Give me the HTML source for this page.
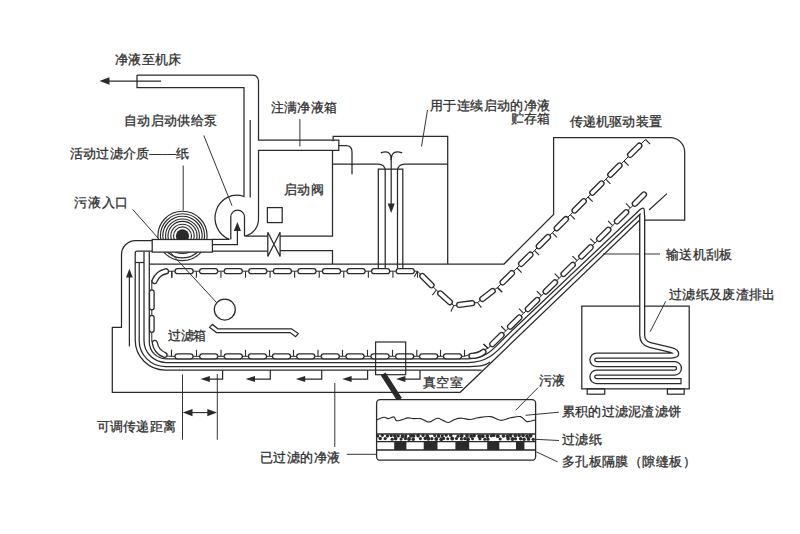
<!DOCTYPE html>
<html><head><meta charset="utf-8"><style>
html,body{margin:0;padding:0;background:#fff;width:800px;height:534px;overflow:hidden}
svg{display:block}
text{font-family:"Liberation Sans",sans-serif;font-size:13.2px;fill:#303030;stroke:#303030;stroke-width:0.3px}
</style></head><body>
<svg width="800" height="534" viewBox="0 0 800 534">
<rect width="800" height="534" fill="#fff"/>
<clipPath id="rtop"><rect x="0" y="0" width="800" height="246"/></clipPath>
<circle cx="182.5" cy="235.9" r="24.6" fill="none" stroke="#2a2a2a" stroke-width="1.15" clip-path="url(#rtop)"/>
<circle cx="182.5" cy="235.9" r="22.1" fill="none" stroke="#2a2a2a" stroke-width="1.15" clip-path="url(#rtop)"/>
<circle cx="182.5" cy="235.9" r="19.7" fill="none" stroke="#2a2a2a" stroke-width="1.15" clip-path="url(#rtop)"/>
<circle cx="182.5" cy="235.9" r="16.9" fill="none" stroke="#2a2a2a" stroke-width="1.15" clip-path="url(#rtop)"/>
<circle cx="182.5" cy="235.9" r="14.5" fill="none" stroke="#2a2a2a" stroke-width="1.15" clip-path="url(#rtop)"/>
<circle cx="182.5" cy="235.9" r="11.7" fill="none" stroke="#2a2a2a" stroke-width="1.15" clip-path="url(#rtop)"/>
<circle cx="182.5" cy="235.9" r="9.0" fill="none" stroke="#2a2a2a" stroke-width="1.15" clip-path="url(#rtop)"/>
<clipPath id="rbot"><rect x="0" y="246" width="800" height="100"/></clipPath>
<circle cx="182.5" cy="235.9" r="24.7" fill="none" stroke="#2a2a2a" stroke-width="1.2" clip-path="url(#rbot)"/>
<circle cx="182.5" cy="235.9" r="22.0" fill="none" stroke="#2a2a2a" stroke-width="1.2" clip-path="url(#rbot)"/>
<circle cx="182.5" cy="235.9" r="17.6" fill="none" stroke="#2a2a2a" stroke-width="1.2" clip-path="url(#rbot)"/>
<circle cx="182.5" cy="235.9" r="6.6" fill="#2a2a2a"/>
<path d="M137,75 H252.5 A6,6 0 0 1 258.5,81 V140 H338.8 V150.3 H258.5 V219 A17,17 0 0 1 244.5,236 H267.8" stroke="#2a2a2a" stroke-width="1.25" fill="none" />
<path d="M137,75 V87.5 H244 V196.5 A21,22 0 0 0 229.5,239.4 H212.4" stroke="#2a2a2a" stroke-width="1.25" fill="none" />
<path d="M230.8,239.4 V217 A6.85,6.85 0 0 1 244.5,217 V236" stroke="#2a2a2a" stroke-width="1.25" fill="none" />
<path d="M250.2,120 V197.6" stroke="#2a2a2a" stroke-width="1.25" fill="none" />
<path d="M161,81 H108" stroke="#2a2a2a" stroke-width="1.25" fill="none" />
<polygon points="99.5,81 109.5,77.2 109.5,84.8" fill="#2a2a2a"/>
<path d="M212.4,244.5 H237.4 V230" stroke="#2a2a2a" stroke-width="1.25" fill="none" />
<polygon points="233.8,231 241,231 237.4,222" fill="#2a2a2a"/>
<path d="M267.8,232.3 V256.4 L280.1,232.3 V256.4 Z" stroke="#2a2a2a" stroke-width="1.25" fill="none" />
<path d="M280.1,236 H332.5 V150.3" stroke="#2a2a2a" stroke-width="1.25" fill="none" />
<path d="M280.1,250.7 H332.5 V264" stroke="#2a2a2a" stroke-width="1.25" fill="none" />
<path d="M212.4,251 H267.8" stroke="#2a2a2a" stroke-width="1.25" fill="none" />
<rect x="267.4" y="207.6" width="14.8" height="15" fill="none" stroke="#2a2a2a" stroke-width="1.25"/>
<path d="M333.2,141.3 V136.3 H447.7 V264" stroke="#2a2a2a" stroke-width="1.25" fill="none" />
<path d="M332.5,164 H378 Q385.2,164 385.2,171 V268" stroke="#2a2a2a" stroke-width="1.25" fill="none" />
<path d="M447.7,164 H405 Q397.5,164 397.5,171 V268" stroke="#2a2a2a" stroke-width="1.25" fill="none" />
<path d="M378.3,268 V169.1 H402.8 V268" stroke="#2a2a2a" stroke-width="1.25" fill="none" />
<path d="M338.8,145.6 H346 Q352,145.6 352,152 V174.2" stroke="#2a2a2a" stroke-width="1.25" fill="none" />
<path d="M391.2,157 V205" stroke="#2a2a2a" stroke-width="1.25" fill="none" />
<polygon points="387.7,203.5 394.7,203.5 391.2,213" fill="#2a2a2a"/>
<path d="M380.8,152.8 Q391.2,149 391.2,160 M402.2,152.8 Q391.2,149 391.2,160" stroke="#2a2a2a" stroke-width="1.25" fill="none" />
<path d="M427.5,110 L421.5,146.5" stroke="#2a2a2a" stroke-width="0.95" fill="none" />
<path d="M149.3,264 H504 L553.6,214.4 V137.6 H670.3 A14.5,14.5 0 0 1 684.7,152 V220.2 H644.4" stroke="#2a2a2a" stroke-width="1.25" fill="none" />
<path d="M649,210 L667,193.6" stroke="#2a2a2a" stroke-width="1.25" fill="none" />
<rect x="152.2" y="239.5" width="60.2" height="12.6" fill="#fff" stroke="#2a2a2a" stroke-width="1.25"/>
<path d="M152.2,240.6 H135.5 A14,14 0 0 0 121.5,254.6 V327.4 H112.3 V392.3 H460.2 L640,219.8" stroke="#2a2a2a" stroke-width="1.25" fill="none" />
<path d="M152.2,251.2 H137.2 A2,2 0 0 0 135.2,253.2 V340 A30,30 0 0 0 165.2,370 H481.6" stroke="#2a2a2a" stroke-width="1.25" fill="none" />
<path d="M135.2,262.5 H144" stroke="#2a2a2a" stroke-width="1.25" fill="none" />
<path d="M139.2,262.5 V340.5 A26,26 0 0 0 165.2,366.5 H470 C482,366.5 486,365 490,362" stroke="#2a2a2a" stroke-width="1.25" fill="none" />
<path d="M144,251.8 V340.5 A22,22 0 0 0 166,362.5 H468 C490,362.5 498,350 513,335 L640,214.2 V300" stroke="#2a2a2a" stroke-width="1.25" fill="none" />
<path d="M149.3,251.8 V342 A16.8,16.8 0 0 0 166.1,358.8 H468 C488,358.8 495,346.5 507.4,335 L639.8,209.8 Q644.4,205.6 644.4,211.5 V300" stroke="#2a2a2a" stroke-width="1.25" fill="none" />
<polyline points="171.80,271.20 196.37,271.20 220.94,271.20 245.51,271.20 270.08,271.20 294.65,271.20 319.22,271.20 343.79,271.20 368.36,271.20 392.93,271.20 417.50,271.20" stroke="#2a2a2a" stroke-width="1.0" fill="none"/>
<path d="M177.59,271.20 L190.59,271.20" stroke="#2a2a2a" stroke-width="6.3" stroke-linecap="round" fill="none"/>
<path d="M177.59,271.20 L190.59,271.20" stroke="#fff" stroke-width="3.7" stroke-linecap="round" fill="none"/>
<path d="M202.16,271.20 L215.16,271.20" stroke="#2a2a2a" stroke-width="6.3" stroke-linecap="round" fill="none"/>
<path d="M202.16,271.20 L215.16,271.20" stroke="#fff" stroke-width="3.7" stroke-linecap="round" fill="none"/>
<path d="M226.73,271.20 L239.73,271.20" stroke="#2a2a2a" stroke-width="6.3" stroke-linecap="round" fill="none"/>
<path d="M226.73,271.20 L239.73,271.20" stroke="#fff" stroke-width="3.7" stroke-linecap="round" fill="none"/>
<path d="M251.30,271.20 L264.30,271.20" stroke="#2a2a2a" stroke-width="6.3" stroke-linecap="round" fill="none"/>
<path d="M251.30,271.20 L264.30,271.20" stroke="#fff" stroke-width="3.7" stroke-linecap="round" fill="none"/>
<path d="M275.87,271.20 L288.87,271.20" stroke="#2a2a2a" stroke-width="6.3" stroke-linecap="round" fill="none"/>
<path d="M275.87,271.20 L288.87,271.20" stroke="#fff" stroke-width="3.7" stroke-linecap="round" fill="none"/>
<path d="M300.44,271.20 L313.44,271.20" stroke="#2a2a2a" stroke-width="6.3" stroke-linecap="round" fill="none"/>
<path d="M300.44,271.20 L313.44,271.20" stroke="#fff" stroke-width="3.7" stroke-linecap="round" fill="none"/>
<path d="M325.00,271.20 L338.00,271.20" stroke="#2a2a2a" stroke-width="6.3" stroke-linecap="round" fill="none"/>
<path d="M325.00,271.20 L338.00,271.20" stroke="#fff" stroke-width="3.7" stroke-linecap="round" fill="none"/>
<path d="M349.58,271.20 L362.58,271.20" stroke="#2a2a2a" stroke-width="6.3" stroke-linecap="round" fill="none"/>
<path d="M349.58,271.20 L362.58,271.20" stroke="#fff" stroke-width="3.7" stroke-linecap="round" fill="none"/>
<path d="M374.14,271.20 L387.14,271.20" stroke="#2a2a2a" stroke-width="6.3" stroke-linecap="round" fill="none"/>
<path d="M374.14,271.20 L387.14,271.20" stroke="#fff" stroke-width="3.7" stroke-linecap="round" fill="none"/>
<path d="M398.72,271.20 L411.72,271.20" stroke="#2a2a2a" stroke-width="6.3" stroke-linecap="round" fill="none"/>
<path d="M398.72,271.20 L411.72,271.20" stroke="#fff" stroke-width="3.7" stroke-linecap="round" fill="none"/>
<line x1="171.80" y1="271.20" x2="171.80" y2="277.70" stroke="#2a2a2a" stroke-width="1.1"/>
<line x1="196.37" y1="271.20" x2="196.37" y2="277.70" stroke="#2a2a2a" stroke-width="1.1"/>
<line x1="220.94" y1="271.20" x2="220.94" y2="277.70" stroke="#2a2a2a" stroke-width="1.1"/>
<line x1="245.51" y1="271.20" x2="245.51" y2="277.70" stroke="#2a2a2a" stroke-width="1.1"/>
<line x1="270.08" y1="271.20" x2="270.08" y2="277.70" stroke="#2a2a2a" stroke-width="1.1"/>
<line x1="294.65" y1="271.20" x2="294.65" y2="277.70" stroke="#2a2a2a" stroke-width="1.1"/>
<line x1="319.22" y1="271.20" x2="319.22" y2="277.70" stroke="#2a2a2a" stroke-width="1.1"/>
<line x1="343.79" y1="271.20" x2="343.79" y2="277.70" stroke="#2a2a2a" stroke-width="1.1"/>
<line x1="368.36" y1="271.20" x2="368.36" y2="277.70" stroke="#2a2a2a" stroke-width="1.1"/>
<line x1="392.93" y1="271.20" x2="392.93" y2="277.70" stroke="#2a2a2a" stroke-width="1.1"/>
<line x1="417.50" y1="271.20" x2="417.50" y2="277.70" stroke="#2a2a2a" stroke-width="1.1"/>
<polyline points="417.50,271.20 436.30,290.00 453.80,305.60 477.50,302.50 497.50,287.50" stroke="#2a2a2a" stroke-width="1.0" fill="none"/>
<path d="M422.30,276.00 L431.50,285.20" stroke="#2a2a2a" stroke-width="6.3" stroke-linecap="round" fill="none"/>
<path d="M422.30,276.00 L431.50,285.20" stroke="#fff" stroke-width="3.7" stroke-linecap="round" fill="none"/>
<path d="M440.20,293.47 L449.90,302.13" stroke="#2a2a2a" stroke-width="6.3" stroke-linecap="round" fill="none"/>
<path d="M440.20,293.47 L449.90,302.13" stroke="#fff" stroke-width="3.7" stroke-linecap="round" fill="none"/>
<path d="M459.20,304.89 L472.10,303.21" stroke="#2a2a2a" stroke-width="6.3" stroke-linecap="round" fill="none"/>
<path d="M459.20,304.89 L472.10,303.21" stroke="#fff" stroke-width="3.7" stroke-linecap="round" fill="none"/>
<path d="M482.30,298.90 L492.70,291.10" stroke="#2a2a2a" stroke-width="6.3" stroke-linecap="round" fill="none"/>
<path d="M482.30,298.90 L492.70,291.10" stroke="#fff" stroke-width="3.7" stroke-linecap="round" fill="none"/>
<line x1="417.50" y1="271.20" x2="414.25" y2="276.85" stroke="#2a2a2a" stroke-width="1.1"/>
<line x1="436.30" y1="290.00" x2="432.40" y2="295.20" stroke="#2a2a2a" stroke-width="1.1"/>
<line x1="453.80" y1="305.60" x2="450.88" y2="311.45" stroke="#2a2a2a" stroke-width="1.1"/>
<line x1="477.50" y1="302.50" x2="481.40" y2="307.70" stroke="#2a2a2a" stroke-width="1.1"/>
<line x1="497.50" y1="287.50" x2="502.10" y2="292.10" stroke="#2a2a2a" stroke-width="1.1"/>
<polyline points="497.50,287.50 517.00,268.00 534.50,250.50 552.30,232.70 570.30,214.70 588.00,197.00 605.80,179.20 624.00,161.00 645.50,139.50" stroke="#2a2a2a" stroke-width="1.0" fill="none"/>
<path d="M502.65,282.35 L511.85,273.15" stroke="#2a2a2a" stroke-width="6.3" stroke-linecap="round" fill="none"/>
<path d="M502.65,282.35 L511.85,273.15" stroke="#fff" stroke-width="3.7" stroke-linecap="round" fill="none"/>
<path d="M521.15,263.85 L530.35,254.65" stroke="#2a2a2a" stroke-width="6.3" stroke-linecap="round" fill="none"/>
<path d="M521.15,263.85 L530.35,254.65" stroke="#fff" stroke-width="3.7" stroke-linecap="round" fill="none"/>
<path d="M538.80,246.20 L548.00,237.00" stroke="#2a2a2a" stroke-width="6.3" stroke-linecap="round" fill="none"/>
<path d="M538.80,246.20 L548.00,237.00" stroke="#fff" stroke-width="3.7" stroke-linecap="round" fill="none"/>
<path d="M556.70,228.30 L565.90,219.10" stroke="#2a2a2a" stroke-width="6.3" stroke-linecap="round" fill="none"/>
<path d="M556.70,228.30 L565.90,219.10" stroke="#fff" stroke-width="3.7" stroke-linecap="round" fill="none"/>
<path d="M574.55,210.45 L583.75,201.25" stroke="#2a2a2a" stroke-width="6.3" stroke-linecap="round" fill="none"/>
<path d="M574.55,210.45 L583.75,201.25" stroke="#fff" stroke-width="3.7" stroke-linecap="round" fill="none"/>
<path d="M592.30,192.70 L601.50,183.50" stroke="#2a2a2a" stroke-width="6.3" stroke-linecap="round" fill="none"/>
<path d="M592.30,192.70 L601.50,183.50" stroke="#fff" stroke-width="3.7" stroke-linecap="round" fill="none"/>
<path d="M610.30,174.70 L619.50,165.50" stroke="#2a2a2a" stroke-width="6.3" stroke-linecap="round" fill="none"/>
<path d="M610.30,174.70 L619.50,165.50" stroke="#fff" stroke-width="3.7" stroke-linecap="round" fill="none"/>
<path d="M630.15,154.85 L639.35,145.65" stroke="#2a2a2a" stroke-width="6.3" stroke-linecap="round" fill="none"/>
<path d="M630.15,154.85 L639.35,145.65" stroke="#fff" stroke-width="3.7" stroke-linecap="round" fill="none"/>
<line x1="497.50" y1="287.50" x2="502.10" y2="292.10" stroke="#2a2a2a" stroke-width="1.1"/>
<line x1="517.00" y1="268.00" x2="521.60" y2="272.60" stroke="#2a2a2a" stroke-width="1.1"/>
<line x1="534.50" y1="250.50" x2="539.10" y2="255.10" stroke="#2a2a2a" stroke-width="1.1"/>
<line x1="552.30" y1="232.70" x2="556.90" y2="237.30" stroke="#2a2a2a" stroke-width="1.1"/>
<line x1="570.30" y1="214.70" x2="574.90" y2="219.30" stroke="#2a2a2a" stroke-width="1.1"/>
<line x1="588.00" y1="197.00" x2="592.60" y2="201.60" stroke="#2a2a2a" stroke-width="1.1"/>
<line x1="605.80" y1="179.20" x2="610.40" y2="183.80" stroke="#2a2a2a" stroke-width="1.1"/>
<line x1="624.00" y1="161.00" x2="628.60" y2="165.60" stroke="#2a2a2a" stroke-width="1.1"/>
<line x1="645.50" y1="139.50" x2="650.10" y2="144.10" stroke="#2a2a2a" stroke-width="1.1"/>
<polyline points="171.50,356.30 196.50,356.30 221.00,356.30 245.50,356.30 269.50,356.30 293.50,356.30 318.00,356.30 342.50,356.30 367.50,356.30 392.50,356.30 416.80,356.30 440.50,356.30 464.50,356.30" stroke="#2a2a2a" stroke-width="1.0" fill="none"/>
<path d="M177.50,356.30 L190.50,356.30" stroke="#2a2a2a" stroke-width="6.3" stroke-linecap="round" fill="none"/>
<path d="M177.50,356.30 L190.50,356.30" stroke="#fff" stroke-width="3.7" stroke-linecap="round" fill="none"/>
<path d="M202.25,356.30 L215.25,356.30" stroke="#2a2a2a" stroke-width="6.3" stroke-linecap="round" fill="none"/>
<path d="M202.25,356.30 L215.25,356.30" stroke="#fff" stroke-width="3.7" stroke-linecap="round" fill="none"/>
<path d="M226.75,356.30 L239.75,356.30" stroke="#2a2a2a" stroke-width="6.3" stroke-linecap="round" fill="none"/>
<path d="M226.75,356.30 L239.75,356.30" stroke="#fff" stroke-width="3.7" stroke-linecap="round" fill="none"/>
<path d="M251.00,356.30 L264.00,356.30" stroke="#2a2a2a" stroke-width="6.3" stroke-linecap="round" fill="none"/>
<path d="M251.00,356.30 L264.00,356.30" stroke="#fff" stroke-width="3.7" stroke-linecap="round" fill="none"/>
<path d="M275.00,356.30 L288.00,356.30" stroke="#2a2a2a" stroke-width="6.3" stroke-linecap="round" fill="none"/>
<path d="M275.00,356.30 L288.00,356.30" stroke="#fff" stroke-width="3.7" stroke-linecap="round" fill="none"/>
<path d="M299.25,356.30 L312.25,356.30" stroke="#2a2a2a" stroke-width="6.3" stroke-linecap="round" fill="none"/>
<path d="M299.25,356.30 L312.25,356.30" stroke="#fff" stroke-width="3.7" stroke-linecap="round" fill="none"/>
<path d="M323.75,356.30 L336.75,356.30" stroke="#2a2a2a" stroke-width="6.3" stroke-linecap="round" fill="none"/>
<path d="M323.75,356.30 L336.75,356.30" stroke="#fff" stroke-width="3.7" stroke-linecap="round" fill="none"/>
<path d="M348.50,356.30 L361.50,356.30" stroke="#2a2a2a" stroke-width="6.3" stroke-linecap="round" fill="none"/>
<path d="M348.50,356.30 L361.50,356.30" stroke="#fff" stroke-width="3.7" stroke-linecap="round" fill="none"/>
<path d="M373.50,356.30 L386.50,356.30" stroke="#2a2a2a" stroke-width="6.3" stroke-linecap="round" fill="none"/>
<path d="M373.50,356.30 L386.50,356.30" stroke="#fff" stroke-width="3.7" stroke-linecap="round" fill="none"/>
<path d="M398.15,356.30 L411.15,356.30" stroke="#2a2a2a" stroke-width="6.3" stroke-linecap="round" fill="none"/>
<path d="M398.15,356.30 L411.15,356.30" stroke="#fff" stroke-width="3.7" stroke-linecap="round" fill="none"/>
<path d="M422.15,356.30 L435.15,356.30" stroke="#2a2a2a" stroke-width="6.3" stroke-linecap="round" fill="none"/>
<path d="M422.15,356.30 L435.15,356.30" stroke="#fff" stroke-width="3.7" stroke-linecap="round" fill="none"/>
<path d="M446.00,356.30 L459.00,356.30" stroke="#2a2a2a" stroke-width="6.3" stroke-linecap="round" fill="none"/>
<path d="M446.00,356.30 L459.00,356.30" stroke="#fff" stroke-width="3.7" stroke-linecap="round" fill="none"/>
<line x1="171.50" y1="356.30" x2="171.50" y2="349.80" stroke="#2a2a2a" stroke-width="1.1"/>
<line x1="196.50" y1="356.30" x2="196.50" y2="349.80" stroke="#2a2a2a" stroke-width="1.1"/>
<line x1="221.00" y1="356.30" x2="221.00" y2="349.80" stroke="#2a2a2a" stroke-width="1.1"/>
<line x1="245.50" y1="356.30" x2="245.50" y2="349.80" stroke="#2a2a2a" stroke-width="1.1"/>
<line x1="269.50" y1="356.30" x2="269.50" y2="349.80" stroke="#2a2a2a" stroke-width="1.1"/>
<line x1="293.50" y1="356.30" x2="293.50" y2="349.80" stroke="#2a2a2a" stroke-width="1.1"/>
<line x1="318.00" y1="356.30" x2="318.00" y2="349.80" stroke="#2a2a2a" stroke-width="1.1"/>
<line x1="342.50" y1="356.30" x2="342.50" y2="349.80" stroke="#2a2a2a" stroke-width="1.1"/>
<line x1="367.50" y1="356.30" x2="367.50" y2="349.80" stroke="#2a2a2a" stroke-width="1.1"/>
<line x1="392.50" y1="356.30" x2="392.50" y2="349.80" stroke="#2a2a2a" stroke-width="1.1"/>
<line x1="416.80" y1="356.30" x2="416.80" y2="349.80" stroke="#2a2a2a" stroke-width="1.1"/>
<line x1="440.50" y1="356.30" x2="440.50" y2="349.80" stroke="#2a2a2a" stroke-width="1.1"/>
<line x1="464.50" y1="356.30" x2="464.50" y2="349.80" stroke="#2a2a2a" stroke-width="1.1"/>
<polyline points="488.00,348.40 505.81,330.85 523.62,313.30 541.43,295.76 559.24,278.21 577.05,260.66 594.86,243.12 612.67,225.57 630.48,208.02" stroke="#2a2a2a" stroke-width="1.0" fill="none"/>
<path d="M492.27,344.19 L501.54,335.06" stroke="#2a2a2a" stroke-width="6.3" stroke-linecap="round" fill="none"/>
<path d="M492.27,344.19 L501.54,335.06" stroke="#fff" stroke-width="3.7" stroke-linecap="round" fill="none"/>
<path d="M510.08,326.64 L519.35,317.52" stroke="#2a2a2a" stroke-width="6.3" stroke-linecap="round" fill="none"/>
<path d="M510.08,326.64 L519.35,317.52" stroke="#fff" stroke-width="3.7" stroke-linecap="round" fill="none"/>
<path d="M527.89,309.09 L537.16,299.97" stroke="#2a2a2a" stroke-width="6.3" stroke-linecap="round" fill="none"/>
<path d="M527.89,309.09 L537.16,299.97" stroke="#fff" stroke-width="3.7" stroke-linecap="round" fill="none"/>
<path d="M545.70,291.55 L554.97,282.42" stroke="#2a2a2a" stroke-width="6.3" stroke-linecap="round" fill="none"/>
<path d="M545.70,291.55 L554.97,282.42" stroke="#fff" stroke-width="3.7" stroke-linecap="round" fill="none"/>
<path d="M563.51,274.00 L572.78,264.87" stroke="#2a2a2a" stroke-width="6.3" stroke-linecap="round" fill="none"/>
<path d="M563.51,274.00 L572.78,264.87" stroke="#fff" stroke-width="3.7" stroke-linecap="round" fill="none"/>
<path d="M581.32,256.45 L590.59,247.33" stroke="#2a2a2a" stroke-width="6.3" stroke-linecap="round" fill="none"/>
<path d="M581.32,256.45 L590.59,247.33" stroke="#fff" stroke-width="3.7" stroke-linecap="round" fill="none"/>
<path d="M599.13,238.90 L608.40,229.78" stroke="#2a2a2a" stroke-width="6.3" stroke-linecap="round" fill="none"/>
<path d="M599.13,238.90 L608.40,229.78" stroke="#fff" stroke-width="3.7" stroke-linecap="round" fill="none"/>
<path d="M616.94,221.36 L626.21,212.23" stroke="#2a2a2a" stroke-width="6.3" stroke-linecap="round" fill="none"/>
<path d="M616.94,221.36 L626.21,212.23" stroke="#fff" stroke-width="3.7" stroke-linecap="round" fill="none"/>
<line x1="488.00" y1="348.40" x2="483.40" y2="343.80" stroke="#2a2a2a" stroke-width="1.1"/>
<line x1="505.81" y1="330.85" x2="501.21" y2="326.26" stroke="#2a2a2a" stroke-width="1.1"/>
<line x1="523.62" y1="313.30" x2="519.02" y2="308.71" stroke="#2a2a2a" stroke-width="1.1"/>
<line x1="541.43" y1="295.76" x2="536.83" y2="291.16" stroke="#2a2a2a" stroke-width="1.1"/>
<line x1="559.24" y1="278.21" x2="554.64" y2="273.61" stroke="#2a2a2a" stroke-width="1.1"/>
<line x1="577.05" y1="260.66" x2="572.45" y2="256.07" stroke="#2a2a2a" stroke-width="1.1"/>
<line x1="594.86" y1="243.12" x2="590.26" y2="238.52" stroke="#2a2a2a" stroke-width="1.1"/>
<line x1="612.67" y1="225.57" x2="608.07" y2="220.97" stroke="#2a2a2a" stroke-width="1.1"/>
<line x1="630.48" y1="208.02" x2="625.88" y2="203.42" stroke="#2a2a2a" stroke-width="1.1"/>
<polyline points="630.48,208.02 639.48,199.02" stroke="#2a2a2a" stroke-width="1.0" fill="none"/>
<path d="M634.79,203.71 L643.98,194.52" stroke="#2a2a2a" stroke-width="6.3" stroke-linecap="round" fill="none"/>
<path d="M634.79,203.71 L643.98,194.52" stroke="#fff" stroke-width="3.7" stroke-linecap="round" fill="none"/>
<polyline points="464.50,356.30 488.00,348.40" stroke="#2a2a2a" stroke-width="1.0" fill="none"/>
<path d="M471.5,355.9 Q479,355.9 483.5,351.9" stroke="#2a2a2a" stroke-width="6.3" stroke-linecap="round" fill="none"/>
<path d="M471.5,355.9 Q479,355.9 483.5,351.9" stroke="#fff" stroke-width="3.7" stroke-linecap="round" fill="none"/>
<line x1="488.00" y1="348.40" x2="483.76" y2="344.16" stroke="#2a2a2a" stroke-width="1.1"/>
<polyline points="151.80,280.00 151.80,342.00" stroke="#2a2a2a" stroke-width="1.0" fill="none"/>
<path d="M151.80,292.20 L151.80,307.60" stroke="#2a2a2a" stroke-width="5.8999999999999995" stroke-linecap="round" fill="none"/>
<path d="M151.80,292.20 L151.80,307.60" stroke="#fff" stroke-width="3.3" stroke-linecap="round" fill="none"/>
<path d="M151.80,317.60 L151.80,330.00" stroke="#2a2a2a" stroke-width="5.8999999999999995" stroke-linecap="round" fill="none"/>
<path d="M151.80,317.60 L151.80,330.00" stroke="#fff" stroke-width="3.3" stroke-linecap="round" fill="none"/>
<polyline points="166.00,271.30 171.80,271.20" stroke="#2a2a2a" stroke-width="1.0" fill="none"/>
<polyline points="164.50,355.90 171.50,356.30" stroke="#2a2a2a" stroke-width="1.0" fill="none"/>
<path d="M154.5,281 A15.7,15.7 0 0 1 166,271.3" stroke="#2a2a2a" stroke-width="6.3" stroke-linecap="round" fill="none"/>
<path d="M154.5,281 A15.7,15.7 0 0 1 166,271.3" stroke="#fff" stroke-width="3.7" stroke-linecap="round" fill="none"/>
<path d="M154.8,342.9 A15.7,15.7 0 0 0 164.5,354.9" stroke="#2a2a2a" stroke-width="6.3" stroke-linecap="round" fill="none"/>
<path d="M154.8,342.9 A15.7,15.7 0 0 0 164.5,354.9" stroke="#fff" stroke-width="3.7" stroke-linecap="round" fill="none"/>
<line x1="171.80" y1="271.20" x2="171.80" y2="277.70" stroke="#2a2a2a" stroke-width="1.1"/>
<line x1="171.50" y1="356.30" x2="171.50" y2="349.80" stroke="#2a2a2a" stroke-width="1.1"/>
<circle cx="224.8" cy="309.5" r="10.5" fill="#fff" stroke="#2a2a2a" stroke-width="1.25"/>
<path d="M170,252 L216.5,302.5" stroke="#2a2a2a" stroke-width="0.95" fill="none" />
<path d="M209.6,327.4 L212.4,324.4 L217.9,328.8 H291.5 L298.3,333.6 L295.6,336.7 L290.1,332.6 H216.5 Z" stroke="#2a2a2a" stroke-width="1.25" fill="none" />
<path d="M183.2,165.5 V210.6" stroke="#2a2a2a" stroke-width="0.95" fill="none" />
<path d="M132.6,209.4 L158.3,238.3" stroke="#2a2a2a" stroke-width="0.95" fill="none" />
<path d="M203.8,135.5 L232,205.7" stroke="#2a2a2a" stroke-width="0.95" fill="none" />
<path d="M299.9,119 V146.4" stroke="#2a2a2a" stroke-width="0.95" fill="none" />
<path d="M603,254 H660" stroke="#2a2a2a" stroke-width="0.95" fill="none" />
<path d="M665.7,301.4 L650.2,331.6" stroke="#2a2a2a" stroke-width="0.95" fill="none" />
<path d="M129.4,346.4 V276" stroke="#2a2a2a" stroke-width="1.25" fill="none" />
<polygon points="126,277.6 132.8,277.6 129.4,268.7" fill="#2a2a2a"/>
<path d="M209.3,379 H222.6 V370" stroke="#2a2a2a" stroke-width="1.25" fill="none" />
<polygon points="200.5,379 209.9,375.9 209.9,382.1" fill="#2a2a2a"/>
<path d="M254.4,379 H270.3 V370" stroke="#2a2a2a" stroke-width="1.25" fill="none" />
<polygon points="245.6,379 255.0,375.9 255.0,382.1" fill="#2a2a2a"/>
<path d="M304.6,379 H321.7 V370" stroke="#2a2a2a" stroke-width="1.25" fill="none" />
<polygon points="295.8,379 305.20000000000005,375.9 305.20000000000005,382.1" fill="#2a2a2a"/>
<path d="M351,379 H367.6 V370" stroke="#2a2a2a" stroke-width="1.25" fill="none" />
<polygon points="342.2,379 351.6,375.9 351.6,382.1" fill="#2a2a2a"/>
<path d="M404.8,379 H420 V370" stroke="#2a2a2a" stroke-width="1.25" fill="none" />
<polygon points="396.0,379 405.40000000000003,375.9 405.40000000000003,382.1" fill="#2a2a2a"/>
<path d="M182.5,374.5 V439.7 M217.3,374 V439.7" stroke="#2a2a2a" stroke-width="0.95" fill="none" />
<path d="M190,412.6 H210" stroke="#2a2a2a" stroke-width="1.1" fill="none" />
<polygon points="182.8,412.6 192.5,409 192.5,416.2" fill="#2a2a2a"/>
<polygon points="217,412.6 207.3,409 207.3,416.2" fill="#2a2a2a"/>
<path d="M334.8,383 V447" stroke="#2a2a2a" stroke-width="0.95" fill="none" />
<path d="M346.8,454.3 H388.2" stroke="#2a2a2a" stroke-width="0.95" fill="none" />
<path d="M581.8,388.8 V306 H689.2 V388.8 Z" stroke="#2a2a2a" stroke-width="1.25" fill="none" />
<rect x="587.2" y="388.8" width="17.5" height="5.4" fill="none" stroke="#2a2a2a" stroke-width="1.2"/>
<rect x="667.4" y="388.8" width="16.8" height="5.4" fill="none" stroke="#2a2a2a" stroke-width="1.2"/>
<path d="M642.2,215 V335 Q642.2,343 650,345 L671,350 C678,352 678,355.6 671,355.6 H596.6 A4.25,4.25 0 0 0 596.6,364.1 H674.75 A4.25,4.25 0 0 1 674.75,372.6 H596.6 A4.25,4.25 0 0 0 596.6,381.1 H681" stroke="#2a2a2a" stroke-width="6.2" fill="none" stroke-linejoin="round"/>
<path d="M642.2,215 V335 Q642.2,343 650,345 L671,350 C678,352 678,355.6 671,355.6 H596.6 A4.25,4.25 0 0 0 596.6,364.1 H674.75 A4.25,4.25 0 0 1 674.75,372.6 H596.6 A4.25,4.25 0 0 0 596.6,381.1 H681" stroke="#fff" stroke-width="3.6" fill="none" stroke-linejoin="round"/>
<path d="M681,378 V384.2" stroke="#2a2a2a" stroke-width="1.2" fill="none" />
<rect x="375.6" y="342" width="30.1" height="32.7" fill="none" stroke="#2a2a2a" stroke-width="1.2"/>
<path d="M383.2,374 L399.6,399.6" stroke="#2a2a2a" stroke-width="5.6" fill="none" />
<rect x="376.6" y="399.6" width="159" height="60.6" rx="3.5" fill="#fff" stroke="#2a2a2a" stroke-width="1.3"/>
<path d="M376.6,419.9 C377.80,419.47 381.95,417.52 383.8,417.3 C385.65,417.08 386.62,418.48 387.7,418.6 C388.78,418.72 389.22,418.27 390.3,418 C391.38,417.73 393.22,416.57 394.2,417 C395.18,417.43 394.98,420.12 396.2,420.6 C397.42,421.08 399.53,420.35 401.5,419.9 C403.47,419.45 406.03,418.12 408,417.9 C409.97,417.68 411.22,418.48 413.3,418.6 C415.38,418.72 418.55,418.27 420.5,418.6 C422.45,418.93 423.48,420.05 425,420.6 C426.52,421.15 427.52,422.28 429.6,421.9 C431.68,421.52 435.20,418.52 437.5,418.3 C439.80,418.08 441.55,419.90 443.4,420.6 C445.25,421.30 446.63,422.73 448.6,422.5 C450.57,422.27 452.97,419.92 455.2,419.2 C457.43,418.48 459.53,418.15 462,418.2 C464.47,418.25 467.33,419.57 470,419.5 C472.67,419.43 474.58,418.28 478,417.8 C481.42,417.32 486.75,416.18 490.5,416.6 C494.25,417.02 497.15,420.10 500.5,420.3 C503.85,420.50 507.25,418.42 510.6,417.8 C513.95,417.18 517.88,415.97 520.6,416.6 C523.32,417.23 524.38,421.07 526.9,421.6 C529.42,422.13 534.23,420.10 535.7,419.8" stroke="#2a2a2a" stroke-width="1.15" fill="none" />
<path d="M376.6,434 H535.6" stroke="#2a2a2a" stroke-width="1.6" fill="none" />
<circle cx="377.80" cy="435.95" r="1.54" fill="#2a2a2a"/>
<circle cx="380.23" cy="438.46" r="1.75" fill="#2a2a2a"/>
<circle cx="382.37" cy="435.37" r="1.55" fill="#2a2a2a"/>
<circle cx="385.15" cy="438.52" r="1.61" fill="#2a2a2a"/>
<circle cx="387.40" cy="435.88" r="1.70" fill="#2a2a2a"/>
<circle cx="391.22" cy="435.59" r="1.57" fill="#2a2a2a"/>
<circle cx="392.12" cy="439.22" r="1.59" fill="#2a2a2a"/>
<circle cx="394.78" cy="435.67" r="1.77" fill="#2a2a2a"/>
<circle cx="395.62" cy="438.61" r="1.84" fill="#2a2a2a"/>
<circle cx="398.13" cy="435.89" r="1.73" fill="#2a2a2a"/>
<circle cx="401.09" cy="439.10" r="1.62" fill="#2a2a2a"/>
<circle cx="402.55" cy="436.18" r="1.86" fill="#2a2a2a"/>
<circle cx="405.46" cy="438.52" r="1.71" fill="#2a2a2a"/>
<circle cx="405.80" cy="435.79" r="1.52" fill="#2a2a2a"/>
<circle cx="409.03" cy="438.97" r="1.94" fill="#2a2a2a"/>
<circle cx="410.89" cy="435.89" r="1.79" fill="#2a2a2a"/>
<circle cx="413.18" cy="439.34" r="1.74" fill="#2a2a2a"/>
<circle cx="413.62" cy="436.00" r="1.82" fill="#2a2a2a"/>
<circle cx="418.07" cy="435.69" r="1.83" fill="#2a2a2a"/>
<circle cx="420.42" cy="438.57" r="1.56" fill="#2a2a2a"/>
<circle cx="423.04" cy="435.43" r="1.62" fill="#2a2a2a"/>
<circle cx="425.24" cy="438.48" r="1.72" fill="#2a2a2a"/>
<circle cx="427.27" cy="436.12" r="1.93" fill="#2a2a2a"/>
<circle cx="428.33" cy="438.76" r="1.94" fill="#2a2a2a"/>
<circle cx="431.85" cy="438.63" r="1.62" fill="#2a2a2a"/>
<circle cx="434.68" cy="435.56" r="1.50" fill="#2a2a2a"/>
<circle cx="436.24" cy="438.97" r="1.98" fill="#2a2a2a"/>
<circle cx="438.53" cy="435.92" r="1.84" fill="#2a2a2a"/>
<circle cx="441.30" cy="439.18" r="1.94" fill="#2a2a2a"/>
<circle cx="442.28" cy="435.70" r="1.55" fill="#2a2a2a"/>
<circle cx="443.62" cy="438.47" r="1.60" fill="#2a2a2a"/>
<circle cx="446.18" cy="435.35" r="1.50" fill="#2a2a2a"/>
<circle cx="447.70" cy="438.76" r="1.51" fill="#2a2a2a"/>
<circle cx="450.73" cy="435.45" r="1.63" fill="#2a2a2a"/>
<circle cx="452.23" cy="438.52" r="1.92" fill="#2a2a2a"/>
<circle cx="456.47" cy="438.49" r="1.55" fill="#2a2a2a"/>
<circle cx="458.03" cy="436.13" r="1.58" fill="#2a2a2a"/>
<circle cx="461.40" cy="438.93" r="1.57" fill="#2a2a2a"/>
<circle cx="461.55" cy="435.83" r="1.99" fill="#2a2a2a"/>
<circle cx="464.89" cy="438.66" r="1.68" fill="#2a2a2a"/>
<circle cx="467.04" cy="435.83" r="1.89" fill="#2a2a2a"/>
<circle cx="467.95" cy="439.21" r="1.99" fill="#2a2a2a"/>
<circle cx="471.11" cy="436.12" r="1.87" fill="#2a2a2a"/>
<circle cx="472.54" cy="438.76" r="1.51" fill="#2a2a2a"/>
<circle cx="474.06" cy="435.56" r="1.85" fill="#2a2a2a"/>
<circle cx="479.37" cy="436.29" r="1.98" fill="#2a2a2a"/>
<circle cx="479.94" cy="438.63" r="1.60" fill="#2a2a2a"/>
<circle cx="482.75" cy="436.20" r="1.92" fill="#2a2a2a"/>
<circle cx="484.81" cy="439.20" r="1.54" fill="#2a2a2a"/>
<circle cx="487.32" cy="436.08" r="1.88" fill="#2a2a2a"/>
<circle cx="487.86" cy="439.19" r="1.67" fill="#2a2a2a"/>
<circle cx="491.44" cy="435.70" r="1.70" fill="#2a2a2a"/>
<circle cx="493.84" cy="435.43" r="1.58" fill="#2a2a2a"/>
<circle cx="497.79" cy="436.13" r="1.99" fill="#2a2a2a"/>
<circle cx="500.20" cy="438.95" r="1.57" fill="#2a2a2a"/>
<circle cx="503.44" cy="435.95" r="1.76" fill="#2a2a2a"/>
<circle cx="507.24" cy="436.13" r="1.61" fill="#2a2a2a"/>
<circle cx="508.09" cy="438.64" r="1.79" fill="#2a2a2a"/>
<circle cx="510.34" cy="435.43" r="1.96" fill="#2a2a2a"/>
<circle cx="512.42" cy="438.98" r="1.95" fill="#2a2a2a"/>
<circle cx="515.34" cy="435.80" r="1.77" fill="#2a2a2a"/>
<circle cx="515.54" cy="438.84" r="1.59" fill="#2a2a2a"/>
<circle cx="519.10" cy="435.47" r="1.74" fill="#2a2a2a"/>
<circle cx="520.61" cy="438.73" r="1.76" fill="#2a2a2a"/>
<circle cx="523.07" cy="435.41" r="1.78" fill="#2a2a2a"/>
<circle cx="524.05" cy="439.17" r="1.75" fill="#2a2a2a"/>
<circle cx="527.02" cy="436.21" r="1.72" fill="#2a2a2a"/>
<circle cx="528.51" cy="438.91" r="1.85" fill="#2a2a2a"/>
<circle cx="530.57" cy="435.78" r="1.97" fill="#2a2a2a"/>
<circle cx="533.25" cy="439.34" r="1.63" fill="#2a2a2a"/>
<path d="M376.6,441.6 H535.6 M376.6,450 H535.6" stroke="#2a2a2a" stroke-width="1.3" fill="none" />
<rect x="394.2" y="441.6" width="12.20" height="8.4" fill="#2a2a2a"/>
<rect x="423.7" y="441.6" width="13.80" height="8.4" fill="#2a2a2a"/>
<rect x="455.4" y="441.6" width="13.80" height="8.4" fill="#2a2a2a"/>
<rect x="487.2" y="441.6" width="12.10" height="8.4" fill="#2a2a2a"/>
<rect x="516" y="441.6" width="8.40" height="8.4" fill="#2a2a2a"/>
<path d="M525.6,415.3 L558.9,412.2 M535,439.3 L559,440.5 M536.3,451.8 L557.6,461.9 M515.6,410.3 L538,387.7" stroke="#2a2a2a" stroke-width="0.95" fill="none" />
<text x="115.00" y="63.7" textLength="66.00" lengthAdjust="spacing">净液至机床</text>
<text x="124.17" y="125.4" textLength="92.92" lengthAdjust="spacing">自动启动供给泵</text>
<text x="69.81" y="158.1" textLength="119.36" lengthAdjust="spacing">活动过滤介质——纸</text>
<text x="73.98" y="207.2" textLength="54.29" lengthAdjust="spacing">污液入口</text>
<text x="270.99" y="112.1" textLength="66.00" lengthAdjust="spacing">注满净液箱</text>
<text x="430.00" y="110.4" textLength="120.00" lengthAdjust="spacing">用于连续启动的净液</text>
<text x="570.20" y="126.3" textLength="91.40" lengthAdjust="spacing">传递机驱动装置</text>
<text x="284.20" y="193.9" textLength="39.41" lengthAdjust="spacing">启动阀</text>
<text x="666.20" y="258.7" textLength="65.70" lengthAdjust="spacing">输送机刮板</text>
<text x="669.00" y="298.9" textLength="106.42" lengthAdjust="spacing">过滤纸及废渣排出</text>
<text x="168.00" y="339.7" textLength="38.00" lengthAdjust="spacing">过滤箱</text>
<text x="423.20" y="386.7" textLength="39.40" lengthAdjust="spacing">真空室</text>
<text x="539.21" y="385.3" textLength="25.60" lengthAdjust="spacing">污液</text>
<text x="561.81" y="416.2" textLength="119.20" lengthAdjust="spacing">累积的过滤泥渣滤饼</text>
<text x="561.81" y="444.3" textLength="40.20" lengthAdjust="spacing">过滤纸</text>
<text x="561.81" y="466.1" textLength="133.73" lengthAdjust="spacing">多孔板隔膜（隙缝板）</text>
<text x="97.20" y="430.9" textLength="78.40" lengthAdjust="spacing">可调传递距离</text>
<text x="259.96" y="461.9" textLength="80.03" lengthAdjust="spacing">已过滤的净液</text>
<text x="510.81" y="122.9" textLength="39.60" lengthAdjust="spacing">贮存箱</text>
</svg>
</body></html>
